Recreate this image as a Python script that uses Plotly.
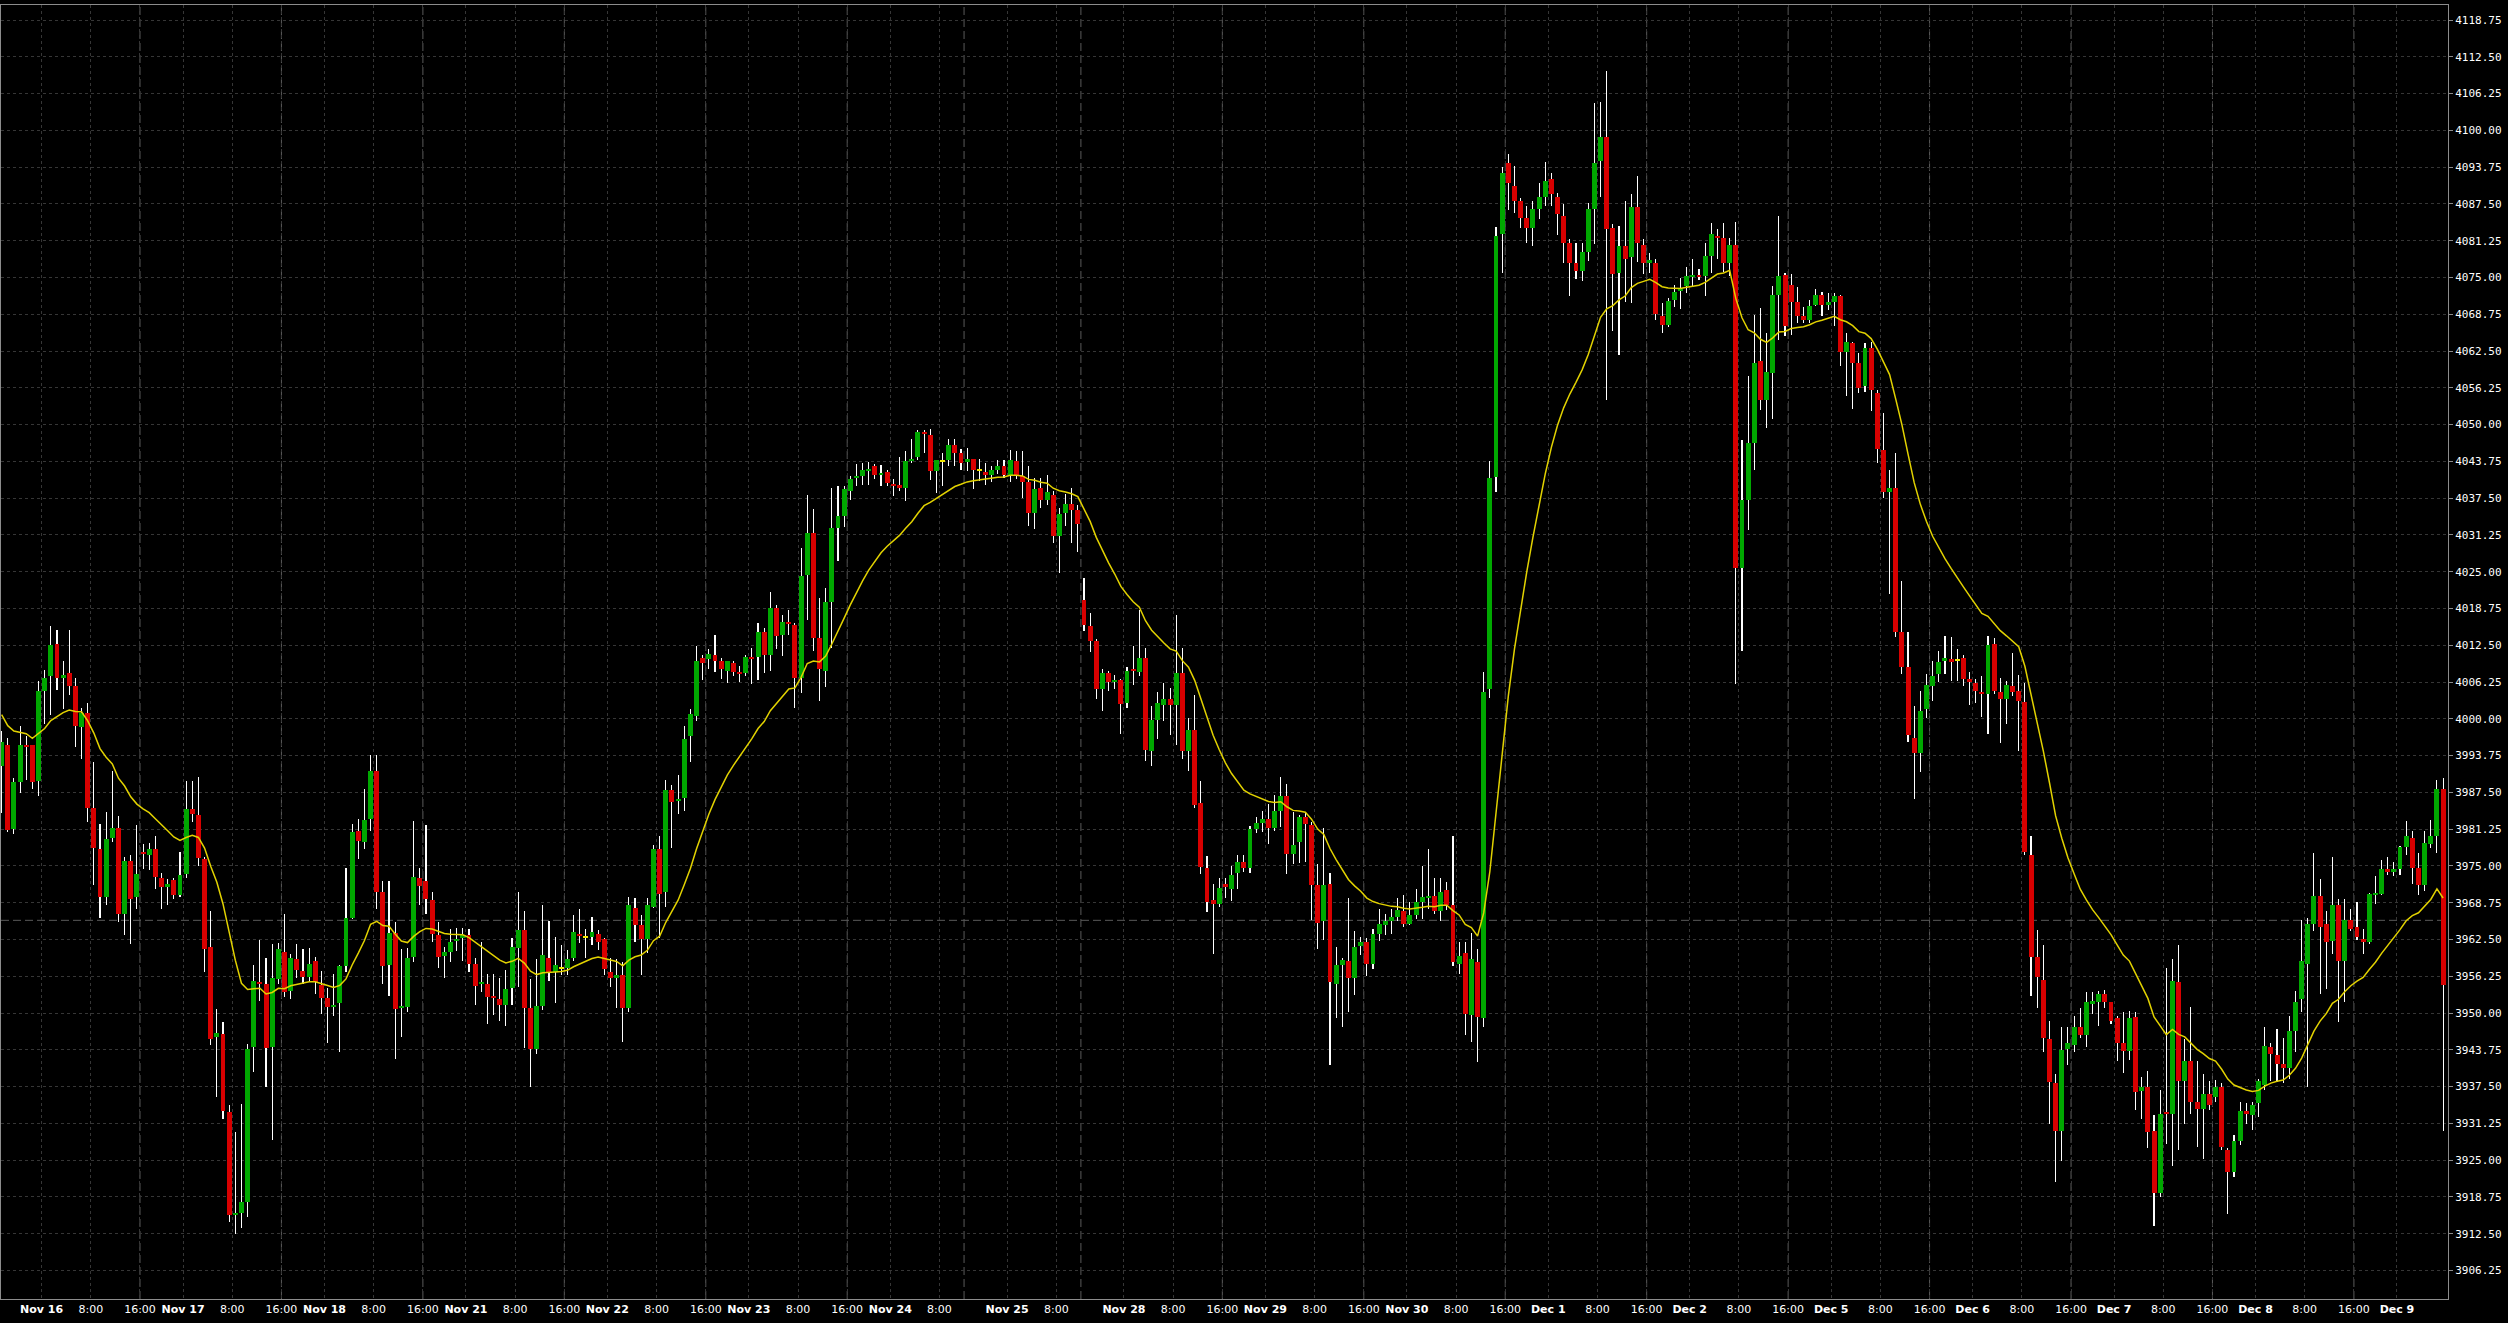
import plotly.graph_objects as go

# ---------------- data (hourly bars) ----------------
opens = [
 3992.0,3995.6,3981.2,3989.2,3995.6,3995.5,3989.5,4004.7,4007.2,4012.7,
 4007.0,4007.8,4005.5,3998.6,4000.9,3984.9,3977.9,3969.8,3979.7,3981.5,
 3966.9,3975.9,3969.8,3977.4,3976.9,3977.9,3973.0,3971.5,3972.6,3970.1,
 3973.6,3984.7,3983.7,3976.2,3961.2,3945.9,3946.4,3933.2,3915.7,3916.0,
 3917.9,3944.3,3955.2,3954.9,3944.2,3955.7,3960.4,3953.7,3959.2,3957.2,
 3956.2,3958.8,3954.7,3952.5,3951.1,3951.7,3958.0,3966.2,3981.0,3979.0,
 3982.9,3991.2,3970.5,3958.2,3963.6,3950.8,3951.0,3959.5,3972.9,3972.4,
 3969.2,3963.3,3959.7,3960.4,3962.2,3962.7,3963.3,3958.3,3954.9,3955.0,
 3952.9,3952.4,3951.3,3954.2,3961.0,3964.1,3950.9,3943.9,3951.2,3959.4,
 3957.0,3957.7,3957.7,3959.4,3963.5,3962.9,3963.0,3963.4,3962.5,3957.0,
 3956.0,3956.5,3950.9,3967.9,3965.0,3962.5,3968.0,3977.9,3970.5,3987.9,
 3986.0,3986.5,3997.0,4000.4,4010.3,4010.1,4010.9,4009.8,4008.2,4009.5,
 4008.0,4007.8,4010.5,4010.5,4014.7,4010.9,4018.75,4014.2,4016.4,4015.9,
 4007.0,4024.4,4031.6,4013.7,4008.2,4019.9,4032.4,4034.5,4038.7,4040.9,
 4041.3,4042.1,4043.0,4041.5,4042.0,4039.9,4039.7,4039.3,4043.8,4044.5,
 4048.7,4048.2,4042.1,4043.8,4043.9,4046.5,4045.2,4043.7,4044.1,4042.2,
 4042.0,4041.5,4042.3,4043.0,4041.5,4043.75,4041.2,4040.3,4034.9,4039.2,
 4037.1,4038.1,4031.0,4034.9,4036.5,4035.4,4020.2,4015.8,4013.2,4005.1,
 4007.7,4006.2,4006.6,4002.7,4008.4,4007.9,4010.3,3994.5,3999.8,4002.4,
 4003.4,4002.3,4007.8,3994.5,3998.1,3985.7,3974.7,3969.2,3968.5,3971.9,
 3971.1,3973.8,3975.7,3974.7,3981.2,3982.3,3982.9,3981.5,3984.4,3986.9,
 3977.0,3979.1,3983.3,3982.0,3971.7,3965.6,3972.0,3955.0,3958.2,3958.8,
 3956.0,3961.4,3962.1,3958.4,3963.5,3965.0,3965.6,3966.4,3967.3,3965.2,
 3966.7,3968.8,3969.6,3969.9,3967.3,3970.9,3968.3,3958.4,3960.2,3949.6,
 3958.7,3949.1,4005.1,4041.1,4082.4,4094.4,4090.6,4088.0,4085.1,4083.4,
 4086.6,4088.6,4091.7,4088.6,4085.5,4080.9,4077.5,4076.1,4079.4,4086.6,
 4094.8,4098.9,4083.4,4075.8,4080.3,4078.4,4086.9,4080.6,4077.5,4077.5,
 4068.4,4066.9,4071.1,4072.7,4073.5,4075.0,4075.5,4075.2,4078.6,4082.1,
 4081.7,4077.5,4080.6,4025.6,4037.2,4046.8,4060.8,4054.2,4058.8,4072.05,
 4075.45,4073.75,4070.9,4068.4,4067.8,4070.4,4072.05,4070.4,4070.9,4071.8,
 4062.4,4063.9,4060.5,4056.5,4063.0,4055.3,4045.7,4038.6,4039.2,4014.8,
 4008.75,3996.8,3994.2,4001.6,4005.6,4007.6,4009.9,4010.2,4010.0,4010.3,
 4006.8,4006.1,4004.6,4004.2,4012.75,4004.5,4003.3,4005.5,4004.7,4002.9,
 3976.9,3959.5,3955.6,3945.5,3938.1,3929.9,3943.9,3944.5,3947.7,3946.2,
 3951.6,3951.9,3953.3,3951.8,3949.1,3944.9,3943.6,3949.3,3936.8,3937.5,
 3929.9,3919.45,3933.1,3932.8,3955.2,3938.5,3941.9,3934.9,3933.7,3936.2,
 3935.8,3937.5,3926.8,3923.0,3928.2,3933.4,3932.7,3934.7,3937.7,3944.2,
 3942.8,3941.3,3940.6,3947.0,3952.3,3958.4,3965.2,3969.9,3965.1,3962.2,
 3968.3,3958.9,3965.8,3964.7,3962.6,3962.0,3970.0,3970.3,3974.5,3974.0,
 3974.4,3978.2,3979.8,3974.7,3971.7,3978.8,3980.1,3988.1,
]
highs = [
 3998.0,3996.7,3989.9,3998.7,3997.1,3995.6,4006.5,4008.3,4015.7,4015.1,
 4009.9,4015.1,4006.9,4001.8,4002.7,3992.7,3982.1,3984.2,3991.2,3983.4,
 3976.5,3976.8,3982.0,3978.8,3978.9,3980.0,3973.8,3972.7,3972.9,3977.4,
 3989.4,3989.4,3990.1,3976.5,3967.4,3950.7,3948.5,3934.3,3929.7,3934.6,
 3944.7,3958.1,3962.4,3959.3,3961.8,3961.9,3966.8,3960.0,3961.8,3960.8,
 3961.1,3959.5,3957.2,3954.2,3956.6,3958.2,3974.7,3982.1,3982.9,3988.1,
 3993.9,3993.9,3972.4,3972.4,3965.5,3960.8,3961.1,3982.7,3974.7,3982.0,
 3970.6,3965.5,3961.2,3964.2,3964.4,3964.5,3964.2,3959.4,3962.0,3956.7,
 3956.7,3956.0,3957.3,3962.7,3970.5,3967.3,3955.8,3959.1,3968.3,3965.7,
 3963.0,3961.5,3960.7,3966.7,3967.7,3964.2,3966.3,3964.1,3962.7,3959.3,
 3959.1,3958.7,3969.7,3969.5,3966.7,3969.5,3978.5,3980.0,3989.6,3988.8,
 3990.4,3998.8,4001.7,4012.4,4010.9,4011.9,4014.2,4010.3,4009.9,4009.8,
 4009.0,4010.9,4012.1,4016.2,4015.4,4021.6,4019.3,4017.7,4018.5,4016.2,
 4029.1,4038.0,4035.7,4020.6,4022.2,4039.2,4039.5,4039.6,4041.2,4043.3,
 4043.5,4043.7,4043.3,4043.1,4042.3,4040.8,4044.5,4045.5,4047.6,4049.0,
 4049.0,4049.2,4044.0,4045.1,4047.6,4047.6,4045.9,4046.0,4044.2,4044.1,
 4043.4,4043.0,4044.0,4044.0,4045.6,4045.5,4045.5,4043.0,4041.0,4041.0,
 4041.5,4038.7,4035.8,4038.2,4039.2,4036.3,4024.0,4017.9,4013.5,4008.4,
 4008.2,4007.5,4006.7,4008.8,4012.4,4018.5,4012.0,4002.2,4004.6,4006.0,
 4005.2,4017.7,4012.0,4000.2,4004.0,3989.4,3976.7,3971.9,3973.0,3973.0,
 3974.9,3976.8,3976.8,3981.8,3983.3,3984.4,3985.6,3987.1,3990.1,3989.0,
 3984.2,3983.7,3984.0,3982.5,3975.3,3981.5,3973.8,3961.2,3959.3,3969.5,
 3963.9,3963.0,3962.8,3964.3,3967.7,3966.8,3967.6,3969.5,3970.0,3968.8,
 3971.0,3974.9,3977.8,3973.0,3973.0,3972.3,3980.0,3962.0,3962.0,3963.6,
 3960.8,4007.95,4043.75,4083.5,4093.75,4096.0,4094.0,4088.5,4087.1,4088.0,
 4091.1,4094.7,4092.8,4089.4,4087.5,4081.5,4080.9,4080.9,4087.7,4104.7,
 4104.8,4110.1,4084.0,4083.75,4088.0,4089.2,4092.3,4081.5,4079.2,4078.1,
 4070.7,4071.5,4073.75,4074.9,4076.7,4078.1,4076.4,4080.9,4084.3,4083.2,
 4084.3,4081.7,4084.5,4047.4,4058.2,4068.6,4069.8,4065.6,4073.5,4085.5,
 4075.8,4075.6,4073.3,4070.0,4071.25,4073.0,4072.6,4072.4,4072.4,4072.05,
 4065.6,4064.1,4062.2,4063.9,4064.0,4055.9,4051.9,4042.3,4045.1,4023.5,
 4014.8,4002.2,4004.8,4007.6,4009.9,4011.6,4014.1,4013.9,4011.8,4010.9,
 4008.0,4006.7,4007.3,4014.1,4013.75,4006.9,4006.5,4011.2,4007.4,4006.0,
 3980.1,3964.1,3961.5,3948.7,3939.6,3947.6,3947.6,3949.5,3950.8,3953.5,
 3953.5,3953.7,3953.9,3951.9,3949.5,3950.2,3950.4,3950.2,3939.2,3940.2,
 3932.6,3937.0,3957.7,3959.15,3961.5,3945.5,3951.0,3941.9,3939.6,3938.5,
 3938.6,3938.1,3927.1,3929.3,3934.8,3934.7,3934.8,3938.8,3947.6,3944.9,
 3947.2,3945.7,3949.5,3953.7,3965.8,3966.2,3977.2,3972.7,3967.4,3976.5,
 3969.3,3969.3,3967.7,3968.9,3964.2,3970.4,3973.3,3976.0,3976.5,3975.7,
 3978.4,3982.7,3981.0,3977.2,3981.0,3982.8,3989.6,3990.0,
]
lows = [
 3984.0,3980.8,3980.4,3987.4,3989.6,3988.0,3986.9,3999.2,4000.7,4004.9,
 4001.6,4004.1,3995.2,3993.1,3982.5,3971.8,3966.1,3968.3,3979.1,3965.4,
 3963.3,3961.8,3967.7,3974.5,3974.3,3971.0,3967.7,3968.4,3969.4,3969.8,
 3973.0,3982.5,3975.0,3957.0,3944.5,3935.8,3932.0,3914.5,3912.4,3913.5,
 3915.4,3940.0,3952.0,3937.5,3928.5,3955.0,3952.7,3952.3,3956.0,3955.0,
 3955.5,3953.3,3949.8,3944.9,3949.5,3943.3,3957.0,3966.0,3976.2,3977.8,
 3980.9,3967.7,3954.9,3952.9,3942.2,3945.9,3950.2,3958.7,3968.4,3966.9,
 3962.0,3957.7,3955.9,3958.6,3960.5,3958.9,3957.0,3951.3,3953.5,3948.2,
 3949.6,3948.6,3947.8,3951.3,3954.5,3944.1,3937.5,3943.1,3950.5,3955.4,
 3951.7,3956.4,3956.4,3958.9,3961.9,3959.3,3961.5,3960.7,3956.4,3954.5,
 3950.8,3945.1,3950.2,3962.1,3956.4,3960.2,3967.9,3962.7,3968.1,3978.0,
 3983.9,3984.3,3992.7,3999.6,4006.6,4008.5,4008.0,4006.8,4006.0,4007.2,
 4006.2,4007.2,4005.9,4006.6,4007.8,4008.2,4011.9,4010.7,4014.2,4001.9,
 4004.3,4016.8,4011.5,4003.0,4005.4,4012.1,4026.9,4032.6,4037.1,4039.5,
 4039.8,4039.8,4040.8,4039.6,4039.6,4037.9,4038.7,4037.0,4043.5,4043.9,
 4045.1,4040.5,4038.4,4039.5,4043.0,4042.9,4042.3,4042.1,4039.1,4040.4,
 4039.8,4040.2,4041.6,4041.0,4040.2,4040.7,4037.5,4032.7,4032.2,4035.8,
 4036.3,4029.9,4024.7,4032.7,4029.9,4028.4,4015.0,4011.4,4003.3,4001.4,
 4004.8,4005.0,3997.4,4001.8,4005.7,4007.3,3992.8,3992.0,3996.6,3999.6,
 3997.3,3995.5,3993.1,3991.1,3984.8,3973.6,3967.1,3960.1,3968.1,3969.6,
 3969.1,3971.0,3973.9,3973.8,3980.6,3980.8,3978.7,3981.0,3981.6,3973.6,
 3975.3,3975.5,3975.7,3965.8,3960.9,3962.4,3941.1,3949.1,3947.6,3950.2,
 3953.1,3959.9,3956.3,3957.5,3962.2,3963.3,3963.5,3965.6,3964.7,3964.9,
 3966.0,3966.0,3967.6,3966.8,3965.6,3967.5,3958.0,3956.7,3946.2,3945.0,
 3941.7,3947.6,4003.6,4038.6,4075.8,4086.4,4086.0,4083.4,4080.9,4080.3,
 4084.9,4087.2,4087.2,4082.3,4077.5,4071.8,4074.7,4074.4,4077.8,4080.7,
 4088.6,4054.2,4065.9,4061.9,4070.9,4070.7,4077.7,4075.6,4075.8,4067.8,
 4065.6,4066.5,4069.9,4069.6,4072.4,4073.5,4074.6,4071.8,4075.8,4078.1,
 4076.0,4075.2,4005.9,4011.6,4032.05,4042.3,4052.5,4049.4,4051.0,4064.4,
 4065.0,4065.3,4067.3,4067.3,4067.3,4070.1,4068.4,4069.5,4066.7,4059.9,
 4054.8,4052.7,4055.3,4055.6,4052.3,4043.4,4037.5,4021.25,4013.9,4007.6,
 3996.0,3986.4,3990.9,4000.2,4003.1,4006.25,4007.6,4006.5,4006.5,4005.5,
 4002.3,4002.6,4000.3,3997.4,4004.2,3995.9,3999.1,4003.9,3994.5,3976.9,
 3952.9,3950.8,3943.4,3931.1,3921.35,3924.8,3941.1,3943.4,3945.8,3944.3,
 3949.9,3947.8,3950.8,3948.1,3941.9,3939.8,3942.0,3933.5,3932.0,3927.1,
 3913.75,3918.7,3927.8,3924.0,3926.8,3931.1,3932.8,3927.3,3925.2,3933.5,
 3934.8,3926.7,3915.9,3922.1,3927.6,3931.1,3930.1,3932.4,3936.9,3938.5,
 3938.2,3938.1,3938.8,3943.4,3950.2,3937.5,3963.9,3953.3,3954.0,3960.1,
 3948.5,3951.8,3963.9,3962.4,3960.1,3961.8,3968.6,3970.0,3973.4,3973.2,
 3973.4,3976.9,3971.9,3970.0,3970.8,3978.0,3977.2,3929.9,
]
closes = [
 3996.0,3981.1,3989.2,3995.6,3995.3,3989.2,4004.7,4006.9,4012.5,4006.9,
 4007.5,4005.6,3998.7,4000.9,3984.8,3978.0,3969.8,3979.6,3981.5,3966.9,
 3975.9,3969.4,3973.7,3977.1,3977.9,3973.1,3971.5,3972.0,3970.0,3973.5,
 3984.7,3983.8,3976.3,3960.9,3945.5,3946.6,3933.4,3915.7,3916.0,3917.8,
 3943.9,3955.4,3954.9,3944.0,3956.0,3960.9,3953.5,3959.4,3957.3,3956.2,
 3958.3,3955.2,3952.5,3951.0,3951.4,3958.0,3966.2,3980.7,3979.2,3982.8,
 3991.2,3970.5,3958.0,3963.6,3950.7,3951.1,3959.4,3973.1,3971.6,3969.4,
 3963.5,3959.5,3960.4,3962.1,3962.5,3963.3,3958.3,3954.6,3955.2,3952.8,
 3952.6,3951.3,3954.0,3961.3,3964.1,3950.8,3943.9,3951.2,3959.8,3957.0,
 3958.2,3957.7,3959.1,3963.7,3963.1,3962.9,3963.7,3962.1,3957.4,3955.9,
 3956.5,3950.9,3968.3,3965.0,3962.5,3968.3,3977.9,3970.3,3987.9,3985.9,
 3986.3,3996.6,4000.8,4009.9,4009.4,4011.0,4009.9,4008.4,4009.8,4008.0,
 4007.7,4010.5,4010.2,4014.7,4010.9,4018.75,4014.1,4016.4,4016.1,4007.0,
 4024.2,4031.6,4013.75,4008.4,4019.9,4032.4,4034.5,4039.1,4040.8,4041.3,
 4042.3,4042.5,4041.4,4041.7,4040.0,4039.6,4039.3,4043.75,4044.1,4048.7,
 4048.4,4042.1,4043.9,4043.8,4046.6,4045.2,4043.4,4044.1,4042.2,4042.2,
 4041.5,4042.3,4043.0,4041.5,4044.0,4041.5,4040.3,4035.0,4039.0,4037.1,
 4038.6,4031.0,4034.8,4036.5,4035.4,4033.1,4016.0,4013.2,4005.0,4007.8,
 4006.2,4006.6,4002.5,4008.2,4008.1,4010.3,3994.7,3999.8,4002.7,4003.4,
 4002.4,4007.8,3994.5,3998.1,3985.4,3974.8,3968.9,3968.5,3971.3,3971.5,
 3973.4,3975.7,3974.7,3981.2,3982.3,3982.9,3981.5,3984.4,3986.9,3977.0,
 3978.6,3983.3,3982.2,3971.7,3965.3,3971.7,3955.2,3958.2,3959.0,3956.0,
 3961.3,3962.1,3958.4,3963.4,3965.2,3965.6,3966.4,3967.5,3965.2,3966.7,
 3968.8,3969.7,3969.9,3967.3,3970.6,3968.3,3958.7,3959.7,3949.8,3959.2,
 3949.4,4004.5,4040.9,4082.05,4092.8,4091.0,4088.0,4085.1,4083.4,4086.6,
 4088.6,4091.4,4089.1,4085.7,4080.9,4077.5,4076.1,4079.4,4086.6,4094.5,
 4098.9,4083.2,4075.6,4080.3,4078.1,4086.9,4080.9,4077.5,4077.9,4068.75,
 4066.9,4071.0,4072.6,4073.1,4075.2,4075.5,4075.1,4078.6,4082.4,4081.7,
 4077.5,4080.6,4025.6,4037.2,4046.8,4060.5,4054.2,4059.0,4072.05,4075.2,
 4066.7,4070.9,4068.4,4067.8,4070.1,4072.05,4070.4,4070.9,4071.8,4062.4,
 4064.1,4060.5,4056.25,4063.0,4055.9,4045.9,4038.6,4039.2,4014.8,4008.75,
 3997.2,3994.2,4001.4,4005.7,4007.3,4009.7,4010.4,4009.7,4010.0,4006.7,
 4006.3,4004.8,4004.3,4012.6,4004.8,4003.3,4005.8,4004.6,4003.1,3977.4,
 3959.5,3956.1,3945.7,3938.2,3929.9,3943.8,3944.9,3947.7,3946.2,3951.8,
 3952.0,3953.3,3951.9,3948.7,3944.9,3943.6,3949.1,3936.6,3937.5,3929.7,
 3919.45,3932.8,3932.8,3955.4,3938.5,3941.9,3934.9,3933.7,3936.2,3934.4,
 3937.5,3927.3,3923.0,3928.2,3933.4,3932.8,3934.4,3938.5,3944.4,3943.0,
 3941.3,3940.7,3947.0,3951.9,3958.8,3965.2,3969.9,3964.7,3962.0,3968.3,
 3958.8,3965.8,3964.3,3963.0,3962.0,3970.2,3970.3,3974.4,3974.0,3974.4,
 3978.2,3980.1,3974.7,3971.7,3978.9,3980.1,3988.1,3954.8,
]

# trading days: label and index of the first (midnight) bar of each day
day_labels = ["Nov 16", "Nov 17", "Nov 18", "Nov 21", "Nov 22", "Nov 23", "Nov 24",
              "Nov 25", "Nov 28", "Nov 29", "Nov 30", "Dec 1", "Dec 2", "Dec 5",
              "Dec 6", "Dec 7", "Dec 8", "Dec 9"]
day_start_bar = [7, 30, 53, 76, 99, 122, 145, 164, 183, 206, 229, 252, 275, 298,
                 321, 344, 367, 390]
# bars from midnight until the session break (shorter on the holiday days)
bars_to_break = [16, 16, 16, 16, 16, 16, 12, 12, 16, 16, 16, 16, 16, 16, 16, 16, 16, 16]

ema_period = 20
ema_start = 4000.7          # value of the average at the first visible bar
ref_level = 3965.75         # dashed horizontal level
y_tick_first, y_tick_step, y_tick_count = 3906.25, 6.25, 35

# ---------------- derived ----------------
n = len(closes)
idx = list(range(n))

alpha = 2.0 / (ema_period + 1)
ema = [ema_start]
for c in closes[1:]:
    ema.append(ema[-1] + alpha * (c - ema[-1]))

GREEN, RED, DOJI = "#00a800", "#d80000", "#f2e600"
min_body = 0.35
body_base, body_h, body_col = [], [], []
wick_base, wick_h = [], []
for i, (o, h, l, c) in enumerate(zip(opens, highs, lows, closes)):
    top, bot = max(o, c), min(o, c)
    if c > o:
        col = GREEN
    elif c < o:
        col = RED
    else:
        col = DOJI
    hgt = top - bot
    if hgt < min_body:
        mid = (top + bot) / 2
        bot, hgt = mid - min_body / 2, min_body
    body_base.append(bot)
    body_h.append(hgt)
    body_col.append(col)
    wick_base.append(l)
    wick_h.append(h - l)

last = n - 1
tickvals, ticktext, breaks = [], [], []
for lab, d, nb in zip(day_labels, day_start_bar, bars_to_break):
    tickvals.append(d - 0.5)
    ticktext.append("<b>" + lab + "</b>")
    if d + 7.5 < last:
        tickvals.append(d + 7.5)
        ticktext.append("8:00")
    if nb == 16 and d + 15.5 < last:
        tickvals.append(d + 15.5)
        ticktext.append("16:00")
    if d + nb - 0.5 < last:
        breaks.append(d + nb - 0.5)

yticks = [y_tick_first + k * y_tick_step for k in range(y_tick_count)]
ytext = ["%.2f" % v for v in yticks]

# ---------------- figure ----------------
fig = go.Figure()
# wicks: hair-thin bars (plotly expands them to one crisp pixel)
fig.add_trace(go.Bar(x=idx, y=wick_h, base=wick_base, width=0.02,
                     marker=dict(color="#ffffff", line=dict(width=0)),
                     hoverinfo="skip", showlegend=False))
# bodies
fig.add_trace(go.Bar(x=idx, y=body_h, base=body_base, width=0.8,
                     marker=dict(color=body_col, line=dict(width=0)),
                     hoverinfo="skip", showlegend=False))
# moving average
fig.add_trace(go.Scatter(x=idx, y=ema, mode="lines",
                         line=dict(color="#e2d200", width=1.5),
                         hoverinfo="skip", showlegend=False))

for b in breaks:
    fig.add_shape(type="line", xref="x", yref="paper", x0=b, x1=b, y0=0, y1=1,
                  line=dict(color="#5a5a5a", width=1, dash="8px,4px"), layer="below")
fig.add_shape(type="line", xref="paper", yref="y", x0=0, x1=1, y0=ref_level, y1=ref_level,
              line=dict(color="#5a5a5a", width=1, dash="8px,4px"), layer="below")

AX = "#8c8c8c"
fig.update_layout(
    width=2508, height=1323,
    paper_bgcolor="#000000", plot_bgcolor="#000000",
    margin=dict(l=1, r=60, t=5, b=24),
    showlegend=False, hovermode=False,
    barmode="overlay", bargap=0, bargroupgap=0,
    xaxis=dict(range=[-0.1, 397.8], tickmode="array", tickvals=tickvals, ticktext=ticktext,
               showgrid=True, gridcolor="#363636", griddash="3px,3px", gridwidth=1,
               zeroline=False, showline=True, mirror=True, linecolor=AX, linewidth=1,
               ticks="", tickfont=dict(family="DejaVu Sans", size=11, color="#ffffff"),
               fixedrange=True),
    yaxis=dict(side="right", range=[3901.4, 4121.3], tickmode="array",
               tickvals=yticks, ticktext=ytext,
               showgrid=True, gridcolor="#363636", griddash="3px,3px", gridwidth=1,
               zeroline=False, showline=True, mirror=True, linecolor=AX, linewidth=1,
               ticks="outside", ticklen=4, tickcolor=AX,
               tickfont=dict(family="DejaVu Sans Mono", size=11, color="#ffffff"),
               fixedrange=True),
)

fig.write_html(
    "out.html",
    config={"displayModeBar": False},
    post_script="document.body.style.margin='0px';document.body.style.padding='0px';"
                "document.documentElement.style.overflow='hidden';",
)
